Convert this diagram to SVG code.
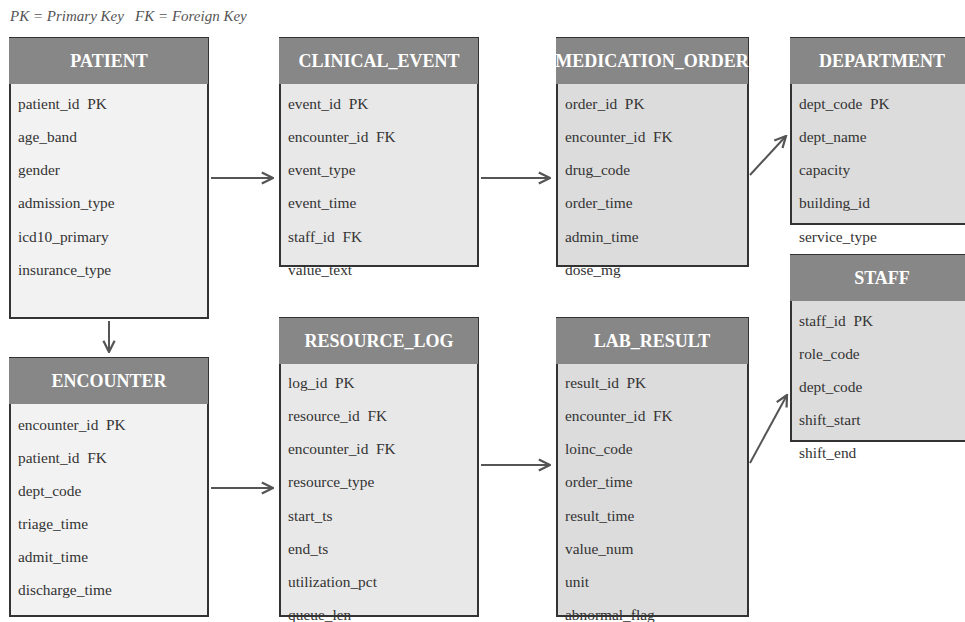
<svg xmlns="http://www.w3.org/2000/svg" width="965" height="622" viewBox="0 0 965 622">
<style>
.body{stroke:#333;stroke-width:2}
.c1{fill:#f2f2f2}.c2{fill:#e8e8e8}.c3{fill:#dcdcdc}
.hdr{fill:#878787}
.ht{font-family:"Liberation Serif",serif;font-weight:bold;font-size:18px;fill:#fff;text-anchor:middle}
.rt{font-family:"Liberation Serif",serif;font-size:15.4px;fill:#333;white-space:pre}
.lg{font-family:"Liberation Serif",serif;font-style:italic;font-size:15px;fill:#555;white-space:pre}
.cn{stroke:#555;stroke-width:2;fill:none}
</style>
<defs>
<marker id="ah" viewBox="0 0 10 10" refX="9" refY="5" markerWidth="7" markerHeight="7" markerUnits="strokeWidth" orient="auto">
<path d="M1,1 L9,5 L1,9" fill="none" stroke="#555" stroke-width="1.6"/>
</marker>
</defs>
<text class="lg" x="10" y="21">PK = Primary Key   FK = Foreign Key</text>

<g id="connectors">
<line class="cn" x1="211" y1="178" x2="273" y2="178" marker-end="url(#ah)"/>
<line class="cn" x1="481" y1="178" x2="550" y2="178" marker-end="url(#ah)"/>
<line class="cn" x1="109" y1="321" x2="109" y2="352" marker-end="url(#ah)"/>
<line class="cn" x1="211" y1="488" x2="273" y2="488" marker-end="url(#ah)"/>
<line class="cn" x1="481" y1="465" x2="550" y2="465" marker-end="url(#ah)"/>
<line class="cn" x1="750" y1="175" x2="786" y2="136" marker-end="url(#ah)"/>
<line class="cn" x1="750" y1="463" x2="787" y2="395" marker-end="url(#ah)"/>
</g>

<g id="patient">
<rect class="body c1" x="10" y="38" width="198" height="280"/>
<rect class="hdr" x="9" y="38" width="199" height="46"/>
<text class="ht" x="109" y="67">PATIENT</text>
<text class="rt" x="18" y="109">patient_id  PK</text>
<text class="rt" x="18" y="142">age_band</text>
<text class="rt" x="18" y="175">gender</text>
<text class="rt" x="18" y="208">admission_type</text>
<text class="rt" x="18" y="242">icd10_primary</text>
<text class="rt" x="18" y="275">insurance_type</text>
</g>

<g id="encounter">
<rect class="body c1" x="10" y="358" width="198" height="258"/>
<rect class="hdr" x="9" y="358" width="199" height="46"/>
<text class="ht" x="109" y="387">ENCOUNTER</text>
<text class="rt" x="18" y="430">encounter_id  PK</text>
<text class="rt" x="18" y="463">patient_id  FK</text>
<text class="rt" x="18" y="496">dept_code</text>
<text class="rt" x="18" y="529">triage_time</text>
<text class="rt" x="18" y="562">admit_time</text>
<text class="rt" x="18" y="595">discharge_time</text>
</g>

<g id="clinical_event">
<rect class="body c2" x="280" y="38" width="198" height="228"/>
<rect class="hdr" x="279" y="38" width="199" height="46"/>
<text class="ht" x="379" y="67">CLINICAL_EVENT</text>
<text class="rt" x="288" y="109">event_id  PK</text>
<text class="rt" x="288" y="142">encounter_id  FK</text>
<text class="rt" x="288" y="175">event_type</text>
<text class="rt" x="288" y="208">event_time</text>
<text class="rt" x="288" y="242">staff_id  FK</text>
<text class="rt" x="288" y="275">value_text</text>
</g>

<g id="resource_log">
<rect class="body c2" x="280" y="318" width="198" height="298"/>
<rect class="hdr" x="279" y="318" width="199" height="46"/>
<text class="ht" x="379" y="347">RESOURCE_LOG</text>
<text class="rt" x="288" y="388">log_id  PK</text>
<text class="rt" x="288" y="421">resource_id  FK</text>
<text class="rt" x="288" y="454">encounter_id  FK</text>
<text class="rt" x="288" y="487">resource_type</text>
<text class="rt" x="288" y="521">start_ts</text>
<text class="rt" x="288" y="554">end_ts</text>
<text class="rt" x="288" y="587">utilization_pct</text>
<text class="rt" x="288" y="620">queue_len</text>
</g>

<g id="medication_order">
<rect class="body c3" x="557" y="38" width="191" height="228"/>
<rect class="hdr" x="556" y="38" width="192" height="46"/>
<text class="ht" x="652" y="67">MEDICATION_ORDER</text>
<text class="rt" x="565" y="109">order_id  PK</text>
<text class="rt" x="565" y="142">encounter_id  FK</text>
<text class="rt" x="565" y="175">drug_code</text>
<text class="rt" x="565" y="208">order_time</text>
<text class="rt" x="565" y="242">admin_time</text>
<text class="rt" x="565" y="275">dose_mg</text>
</g>

<g id="lab_result">
<rect class="body c3" x="557" y="318" width="191" height="298"/>
<rect class="hdr" x="556" y="318" width="192" height="46"/>
<text class="ht" x="652" y="347">LAB_RESULT</text>
<text class="rt" x="565" y="388">result_id  PK</text>
<text class="rt" x="565" y="421">encounter_id  FK</text>
<text class="rt" x="565" y="454">loinc_code</text>
<text class="rt" x="565" y="487">order_time</text>
<text class="rt" x="565" y="521">result_time</text>
<text class="rt" x="565" y="554">value_num</text>
<text class="rt" x="565" y="587">unit</text>
<text class="rt" x="565" y="620">abnormal_flag</text>
</g>

<g id="department">
<rect class="body c3" x="791" y="38" width="178" height="186"/>
<rect class="hdr" x="790" y="38" width="179" height="46"/>
<text class="ht" x="882" y="67">DEPARTMENT</text>
<text class="rt" x="799" y="109">dept_code  PK</text>
<text class="rt" x="799" y="142">dept_name</text>
<text class="rt" x="799" y="175">capacity</text>
<text class="rt" x="799" y="208">building_id</text>
<text class="rt" x="799" y="242">service_type</text>
</g>

<g id="staff">
<rect class="body c3" x="791" y="255" width="178" height="186"/>
<rect class="hdr" x="790" y="255" width="179" height="46"/>
<text class="ht" x="882" y="284">STAFF</text>
<text class="rt" x="799" y="326">staff_id  PK</text>
<text class="rt" x="799" y="359">role_code</text>
<text class="rt" x="799" y="392">dept_code</text>
<text class="rt" x="799" y="425">shift_start</text>
<text class="rt" x="799" y="458">shift_end</text>
</g>
</svg>
